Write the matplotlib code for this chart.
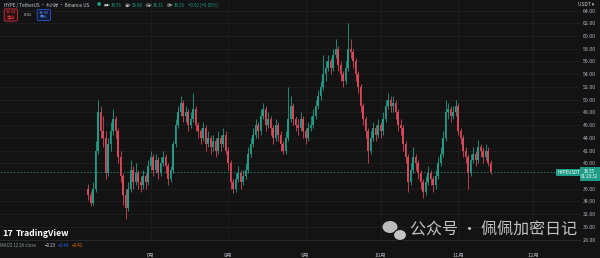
import datetime as dt
import numpy as np
import matplotlib
matplotlib.use('Agg')
import matplotlib.pyplot as plt
import matplotlib.dates as mdates
from matplotlib.patches import Ellipse

plt.rcParams['font.family'] = ['Noto Sans CJK SC', 'DejaVu Sans']

# daily candles (HYPE / USDT)
start = dt.date(2025, 6, 6)
first_open = 36.0
closes = [
    35.0, 33.8, 36.0, 42.0, 48.0, 45.0, 44.0, 38.5, 43.0, 45.0,
    47.0, 45.0, 41.0, 38.0, 35.0, 33.0, 36.0, 39.0, 37.0, 38.5,
    37.0, 36.5, 38.0, 37.0, 39.5, 41.0, 39.0, 40.5, 38.5, 40.0,
    41.0, 39.5, 37.5, 39.0, 43.0, 46.0, 48.0, 49.5, 47.5, 48.0,
    46.0, 47.0, 48.5, 46.0, 45.0, 44.0, 45.5, 43.0, 44.0, 42.5,
    43.5, 42.0, 44.0, 43.0, 44.5, 42.0, 40.0, 37.0, 36.0, 37.5,
    38.5, 37.0, 38.0, 39.0, 41.5, 43.0, 44.5, 46.0, 45.0, 47.5,
    48.5, 46.0, 47.0, 45.5, 44.0, 46.0, 44.5, 43.0, 42.0, 44.0,
    47.0, 49.0, 47.0, 46.0, 45.5, 47.0, 45.0, 44.0, 45.5, 46.0,
    47.5, 49.0, 50.5, 52.0, 54.0, 55.0, 56.0, 55.0, 57.0, 58.0,
    55.5, 54.0, 53.0, 55.0, 58.0, 57.5, 56.0, 54.0, 52.0, 49.0,
    47.0, 45.0, 42.0, 44.0, 45.5, 44.5, 46.0, 45.0, 47.0, 49.0,
    50.0, 49.0, 49.5, 48.0, 46.0, 45.5, 43.0, 41.0, 37.0, 39.0,
    41.0, 40.0, 38.5, 37.0, 35.5, 37.0, 38.5, 37.5, 36.5, 38.0,
    40.0, 41.5, 44.0, 48.0, 48.5, 47.5, 48.0, 49.0, 45.0, 44.0,
    42.0, 41.0, 38.5, 40.5, 41.5, 40.5, 42.5, 42.0, 41.0, 42.0,
    40.0, 38.55]
highs = [
    36.8, 35.6, 37.0, 43.5, 50.0, 49.0, 47.5, 45.0, 44.0, 46.5,
    48.5, 47.5, 45.5, 42.0, 38.5, 36.0, 37.0, 40.5, 39.5, 40.0,
    39.0, 38.0, 39.0, 38.5, 40.5, 42.0, 41.5, 41.5, 41.0, 41.0,
    42.0, 41.5, 40.0, 39.5, 43.5, 47.0, 49.0, 50.5, 50.0, 49.0,
    48.5, 48.0, 51.0, 49.0, 46.5, 45.5, 46.5, 46.0, 45.0, 44.5,
    44.5, 44.0, 45.0, 44.5, 45.5, 45.0, 42.5, 40.5, 37.5, 38.5,
    39.5, 39.0, 39.0, 40.0, 42.5, 44.0, 45.5, 47.0, 46.5, 48.5,
    49.5, 49.0, 48.0, 47.5, 46.0, 47.0, 46.5, 45.0, 43.5, 45.0,
    52.0, 50.5, 49.5, 47.5, 47.0, 48.0, 47.5, 45.5, 46.5, 47.5,
    48.5, 50.0, 51.5, 53.0, 57.0, 56.0, 57.0, 56.5, 58.0, 59.5,
    58.5, 56.0, 54.5, 56.0, 62.0, 59.5, 58.0, 56.5, 54.5, 52.5,
    49.5, 47.5, 45.5, 45.0, 46.5, 46.0, 47.0, 46.5, 48.0, 50.0,
    51.0, 50.5, 50.5, 50.0, 48.5, 47.0, 46.0, 43.5, 41.5, 40.0,
    42.5, 41.5, 40.5, 39.0, 37.5, 38.0, 39.5, 39.0, 38.0, 39.0,
    41.0, 42.5, 45.0, 50.0, 49.5, 49.0, 49.0, 50.0, 49.5, 45.5,
    44.5, 42.5, 41.5, 41.5, 42.5, 42.0, 43.6, 43.0, 42.5, 43.0,
    42.5, 40.5]
lows = [
    34.2, 33.2, 33.5, 35.5, 41.5, 44.0, 42.5, 37.5, 38.0, 42.0,
    44.5, 44.0, 40.0, 37.0, 33.5, 31.3, 32.5, 35.5, 36.0, 36.5,
    36.0, 35.5, 36.0, 36.0, 36.5, 39.0, 38.0, 38.5, 37.5, 38.0,
    39.5, 38.5, 36.5, 37.0, 38.5, 42.5, 45.5, 47.5, 46.5, 46.5,
    45.0, 45.5, 46.5, 45.0, 44.0, 43.0, 43.5, 42.0, 42.5, 41.5,
    42.0, 41.0, 41.5, 42.0, 42.5, 41.5, 39.0, 36.0, 35.3, 35.5,
    37.0, 36.0, 36.5, 37.5, 38.5, 41.0, 42.5, 44.0, 44.0, 44.5,
    47.0, 45.0, 45.5, 44.5, 43.0, 43.5, 43.5, 42.0, 41.5, 41.5,
    43.5, 46.5, 46.0, 45.0, 44.5, 45.0, 44.0, 43.0, 43.5, 45.0,
    45.5, 47.0, 48.5, 50.0, 51.5, 53.0, 54.5, 54.0, 54.5, 56.5,
    54.5, 53.0, 52.0, 52.5, 54.5, 56.5, 55.0, 53.0, 51.0, 48.0,
    46.0, 44.0, 40.0, 41.5, 43.5, 43.5, 44.0, 44.0, 44.5, 46.5,
    48.5, 48.0, 48.0, 47.0, 45.0, 44.5, 42.0, 40.0, 35.5, 36.5,
    38.5, 39.0, 37.5, 36.0, 34.5, 35.0, 36.5, 36.5, 35.5, 36.0,
    37.5, 39.5, 41.0, 43.5, 47.0, 46.5, 47.0, 47.5, 44.5, 43.0,
    41.0, 40.0, 36.0, 38.0, 40.0, 39.5, 40.0, 41.0, 40.0, 40.5,
    39.5, 38.3]
opens = [first_open] + closes[:-1]
last_price = 38.55

price_ticks = [28, 30, 32, 34, 36, 40, 42, 44, 46, 48, 50, 52, 54, 56, 58, 60, 62, 64]
month_dates = [dt.date(2025, m, 1) for m in range(7, 13)]
month_labels = ['7月', '8月', '9月', '10月', '11月', '12月']

bg = '#131313'
up_col = '#1f9c88'
dn_col = '#d8475a'

fig = plt.figure(figsize=(6, 2.58), dpi=100, facecolor=bg)
ax = fig.add_axes([0, 18 / 258, 580 / 600, 240 / 258])
ax.set_facecolor(bg)

dates = [start + dt.timedelta(days=i) for i in range(len(closes))]
x = mdates.date2num(dates)
o = np.array(opens)
c = np.array(closes)
cols = [up_col if cc >= oo else dn_col for oo, cc in zip(o, c)]

ax.vlines(x, lows, highs, colors=cols, linewidth=0.6, zorder=3)
body = np.maximum(np.abs(c - o), 0.12)
ax.bar(x, body, bottom=np.minimum(o, c), width=0.75, color=cols, linewidth=0, zorder=4)

ax.axhline(last_price, color=up_col, lw=0.6, ls=(0, (2, 2)), alpha=0.8, zorder=2)

ax.set_xlim(x[0] - 35.2, x[0] + 196.8)
ax.set_ylim(27.93, 65.66)

ax.set_yticks(price_ticks)
ax.set_yticklabels([f'{p:.2f}' for p in price_ticks])
ax.yaxis.tick_right()
ax.tick_params(axis='y', length=0, pad=2, labelsize=3.8, labelcolor='#b2b5be')
ax.set_xticks(mdates.date2num(month_dates))
ax.set_xticklabels(month_labels)
ax.tick_params(axis='x', length=0, pad=9, labelsize=4, labelcolor='#b2b5be')
ax.grid(color='#1f1f1f', linewidth=0.6, zorder=0)
for s in ['top', 'left', 'right']:
    ax.spines[s].set_visible(False)
ax.spines['bottom'].set_color('#2b2b2b')
ax.spines['bottom'].set_linewidth(0.6)

# header
hy = 1 - 5.5 / 258
fig.text(0.006, hy, 'HYPE / TetherUS · 4小时 · Binance.US', fontsize=3.3,
         color='#d1d4dc', va='center')
fig.text(0.162, hy, '●', fontsize=3.0, color=up_col, va='center')
ohlc = [('开', '38.55'), ('高', '38.89'), ('低', '38.31'), ('收', '38.55')]
xs = 0.173
for k, v in ohlc:
    fig.text(xs, hy, k + '=', fontsize=3.1, color='#d1d4dc', va='center')
    fig.text(xs + 0.0115, hy, v, fontsize=3.1, color=up_col, va='center')
    xs += 0.035
fig.text(xs + 0.001, hy, '+0.02 (+0.05%)', fontsize=3.1, color=up_col, va='center')

fig.text(0.018, 1 - 15 / 258, '38.54\n卖出', fontsize=3.0, color='#f23645', ha='center',
         va='center', linespacing=1.1,
         bbox=dict(boxstyle='round,pad=0.35', fc='#2a1214', ec='#f23645', lw=0.5))
fig.text(0.046, 1 - 15 / 258, '0.01', fontsize=3.0, color='#d1d4dc', ha='center', va='center')
fig.text(0.073, 1 - 15 / 258, '38.55\n买入', fontsize=3.0, color='#5b8cff', ha='center',
         va='center', linespacing=1.1,
         bbox=dict(boxstyle='round,pad=0.35', fc='#111a2e', ec='#2962ff', lw=0.5))

# right side labels
fig.text(0.991, 1 - 5 / 258, 'USDT ▾', fontsize=3.5, color='#d1d4dc', ha='right', va='center')
y_last = ax.transData.transform((0, last_price))[1] / fig.bbox.height
fig.text(0.948, y_last, 'HYPEUSDT', fontsize=3.2, color='white', ha='center', va='center',
         bbox=dict(boxstyle='square,pad=0.3', fc=up_col, ec='none'))
fig.text(0.983, y_last - 0.006, '38.55\n01:20:32', fontsize=3.2, color='white', ha='center',
         va='center', linespacing=1.1,
         bbox=dict(boxstyle='square,pad=0.3', fc=up_col, ec='none'))

# bottom left
fig.text(0.004, 1 - 233 / 258, '17', fontsize=6.5, color='white', fontweight='bold',
         va='center')
fig.text(0.026, 1 - 233 / 258, 'TradingView', fontsize=6.2, color='white', fontweight='bold',
         va='center')
fig.text(0.0, 1 - 245.5 / 258, 'MACD 12 26 close', fontsize=3.2, color='#9598a1', va='center')
fig.text(0.075, 1 - 245.5 / 258, '−0.23', fontsize=3.2, color='#d1d4dc', va='center')
fig.text(0.097, 1 - 245.5 / 258, '−0.44', fontsize=3.2, color='#2962ff', va='center')
fig.text(0.119, 1 - 245.5 / 258, '−0.41', fontsize=3.2, color='#ff6d00', va='center')

# watermark
fig.add_artist(Ellipse((390 / 600, 1 - 227 / 258), 15 / 600, 12 / 258, transform=fig.transFigure,
                       fc='#cfcfcf', ec='none', alpha=0.9))
fig.add_artist(Ellipse((400 / 600, 1 - 235 / 258), 13 / 600, 11 / 258, transform=fig.transFigure,
                       fc='#cfcfcf', ec=bg, lw=0.8, alpha=0.95))
fig.text(0.683, 1 - 230 / 258, '公众号 · 佩佩加密日记', fontsize=11.5, color='#cccccc',
         va='center', alpha=0.95)

fig.savefig('out.png', dpi=100, facecolor=bg)
